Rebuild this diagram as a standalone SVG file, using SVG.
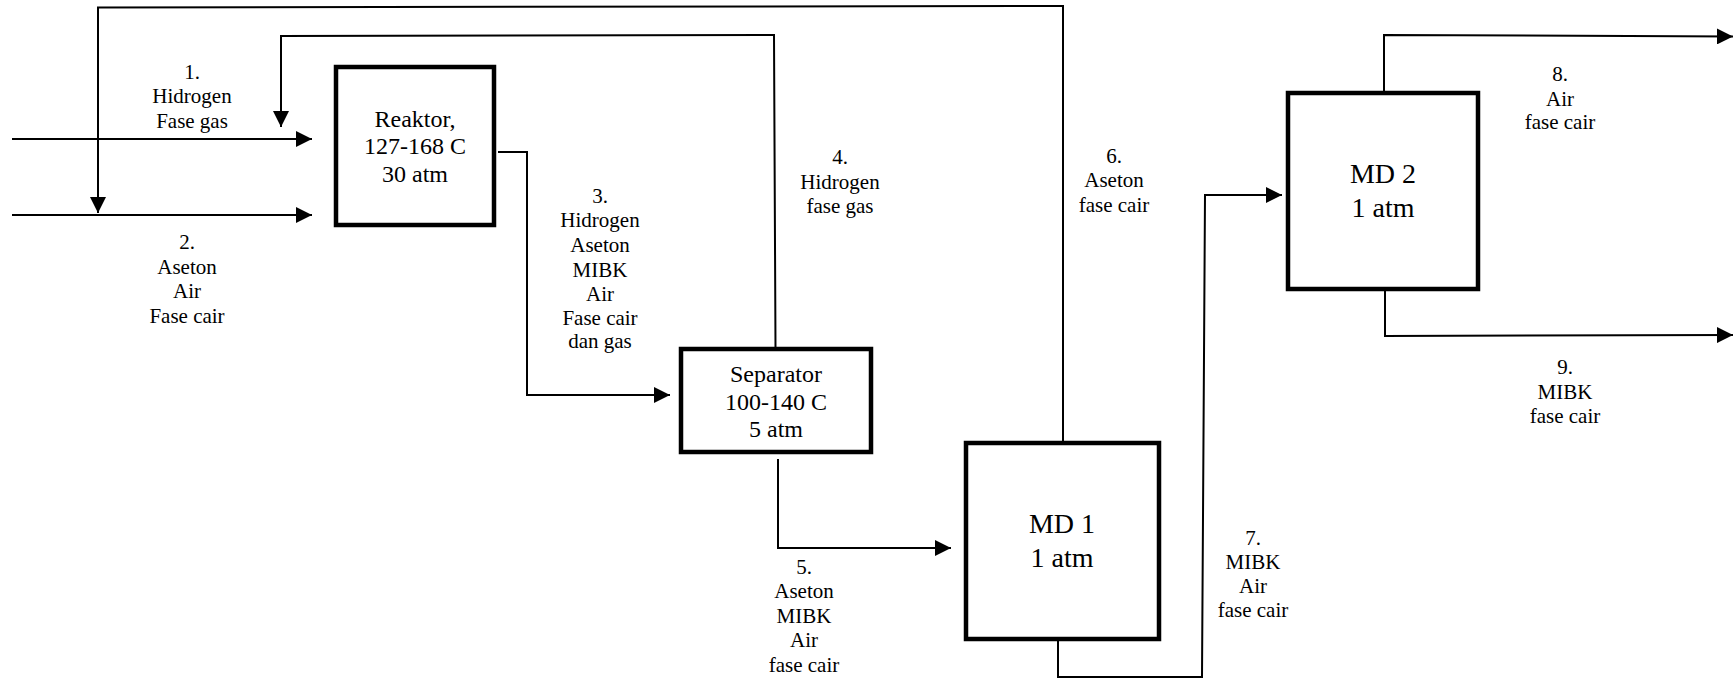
<svg xmlns="http://www.w3.org/2000/svg" width="1733" height="678" viewBox="0 0 1733 678">
<style>
.c{fill:none;stroke:#000;stroke-width:2}
.b{fill:#fff;stroke:#000;stroke-width:4.5}
.t{font-family:'Liberation Serif','DejaVu Serif',serif;fill:#000;text-anchor:middle}
.l{font-size:21px}
.n{font-size:24px}
.m{font-size:28px}
</style>
<defs>
<marker id="ah" markerUnits="userSpaceOnUse" markerWidth="16" markerHeight="16" viewBox="0 0 16 16" refX="16" refY="8" orient="auto">
<path d="M0,0 L16,8 L0,16 Z" fill="#000"/>
</marker>
</defs>
<rect width="1733" height="678" fill="#fff"/>
<g id="connectors">
<path class="c" d="M12,139 L312,139" marker-end="url(#ah)"/>
<path class="c" d="M12,215 L312,215" marker-end="url(#ah)"/>
<path class="c" d="M1063,441 L1063,6 L98,7.5 L98,213" marker-end="url(#ah)"/>
<path class="c" d="M775.5,347 L774,35 L281,36 L281,127" marker-end="url(#ah)"/>
<path class="c" d="M498,152 L527,152 L527,395 L670,395" marker-end="url(#ah)"/>
<path class="c" d="M778,459 L778,548 L951,548" marker-end="url(#ah)"/>
<path class="c" d="M1058,641 L1058,677 L1202,677 L1205,195 L1282,195" marker-end="url(#ah)"/>
<path class="c" d="M1384,91 L1384,35 L1733,36.5" marker-end="url(#ah)"/>
<path class="c" d="M1385,291 L1385,336 L1733,335" marker-end="url(#ah)"/>
</g>
<g id="reaktor" class="t n" font-family="Liberation Serif, serif">
<rect class="b" x="336" y="67" width="158" height="158"/>
<text x="415" y="127">Reaktor,</text>
<text x="415" y="154">127-168 C</text>
<text x="415" y="182">30 atm</text>
</g>
<g id="separator" class="t n" font-family="Liberation Serif, serif">
<rect class="b" x="681" y="349" width="190" height="103"/>
<text x="776" y="382">Separator</text>
<text x="776" y="410">100-140 C</text>
<text x="776" y="437">5 atm</text>
</g>
<g id="md1" class="t m" font-family="Liberation Serif, serif">
<rect class="b" x="966" y="443" width="193" height="196"/>
<text x="1062" y="533">MD 1</text>
<text x="1062" y="567">1 atm</text>
</g>
<g id="md2" class="t m" font-family="Liberation Serif, serif">
<rect class="b" x="1288" y="93" width="190" height="196"/>
<text x="1383" y="183">MD 2</text>
<text x="1383" y="217">1 atm</text>
</g>
<g id="labels" class="t l" font-family="Liberation Serif, serif">
<text x="192" y="79">1.</text>
<text x="192" y="103">Hidrogen</text>
<text x="192" y="128">Fase gas</text>
<text x="187" y="249">2.</text>
<text x="187" y="274">Aseton</text>
<text x="187" y="298">Air</text>
<text x="187" y="323">Fase cair</text>
<text x="600" y="203">3.</text>
<text x="600" y="227">Hidrogen</text>
<text x="600" y="252">Aseton</text>
<text x="600" y="277">MIBK</text>
<text x="600" y="301">Air</text>
<text x="600" y="325">Fase cair</text>
<text x="600" y="348">dan gas</text>
<text x="840" y="164">4.</text>
<text x="840" y="189">Hidrogen</text>
<text x="840" y="213">fase gas</text>
<text x="804" y="574">5.</text>
<text x="804" y="598">Aseton</text>
<text x="804" y="623">MIBK</text>
<text x="804" y="647">Air</text>
<text x="804" y="672">fase cair</text>
<text x="1114" y="163">6.</text>
<text x="1114" y="187">Aseton</text>
<text x="1114" y="212">fase cair</text>
<text x="1253" y="545">7.</text>
<text x="1253" y="569">MIBK</text>
<text x="1253" y="593">Air</text>
<text x="1253" y="617">fase cair</text>
<text x="1560" y="81">8.</text>
<text x="1560" y="106">Air</text>
<text x="1560" y="129">fase cair</text>
<text x="1565" y="374">9.</text>
<text x="1565" y="399">MIBK</text>
<text x="1565" y="423">fase cair</text>
</g>
</svg>
